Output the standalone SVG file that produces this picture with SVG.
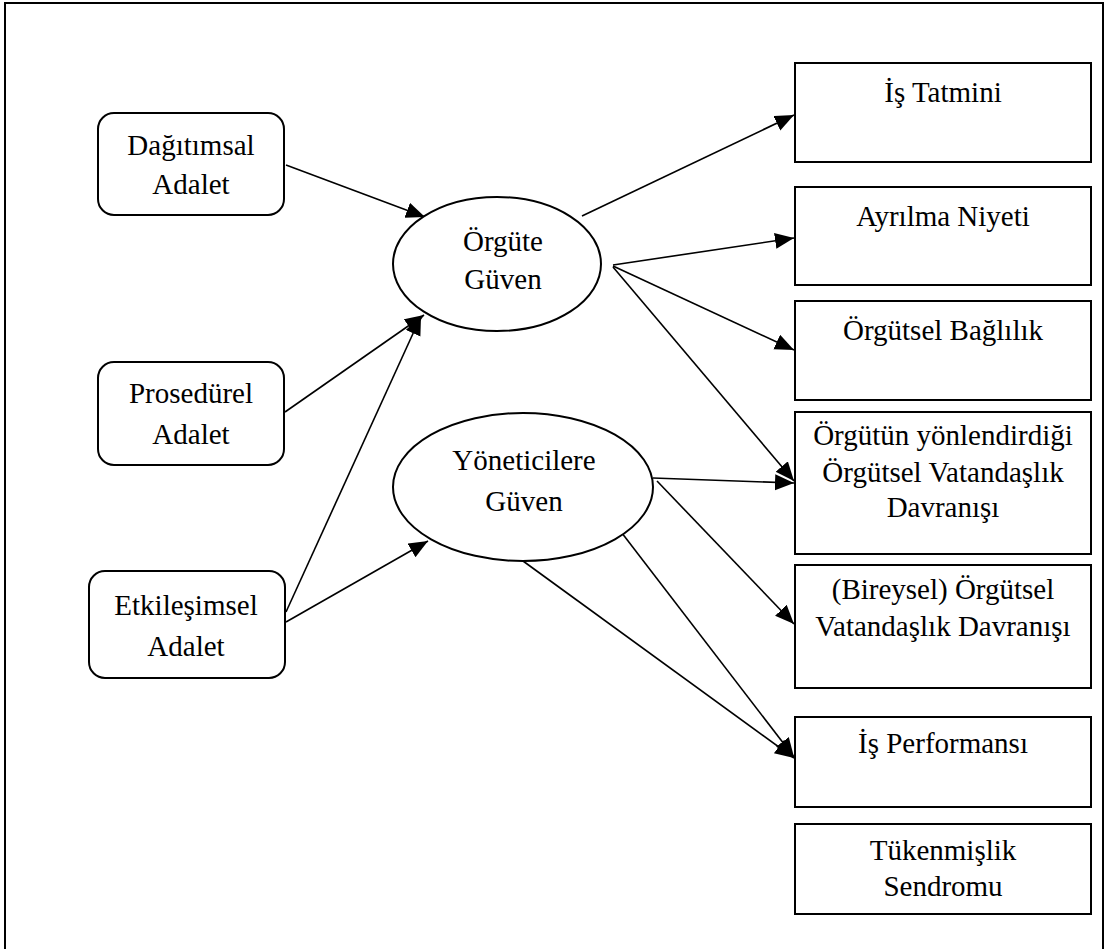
<svg xmlns="http://www.w3.org/2000/svg" width="1107" height="949" viewBox="0 0 1107 949">
<style>
.box{fill:#fff;stroke:#000;stroke-width:2}
.t{font-family:"Liberation Serif","Times New Roman",serif;font-size:29px;fill:#000;text-anchor:middle}
.c{stroke:#000;stroke-width:1.6;fill:none;marker-end:url(#ah)}
</style>
<defs>
<marker id="ah" markerUnits="userSpaceOnUse" markerWidth="22" markerHeight="18" refX="19" refY="8" orient="auto">
<path d="M0,0 L19,8 L0,16 z" fill="#000"/>
</marker>
</defs>
<rect x="0" y="0" width="1107" height="949" fill="#fff"/>
<rect id="frame" x="5" y="3" width="1098" height="960" fill="none" stroke="#000" stroke-width="2"/>
<g id="connectors">
<line class="c" x1="286" y1="165" x2="425" y2="217"/>
<line class="c" x1="285" y1="412" x2="424" y2="315"/>
<line class="c" x1="286" y1="612" x2="421" y2="316"/>
<line class="c" x1="286" y1="622" x2="428" y2="541"/>
<line class="c" x1="582" y1="216" x2="794" y2="115"/>
<line class="c" x1="613" y1="265" x2="794" y2="238"/>
<line class="c" x1="613" y1="266" x2="794" y2="350"/>
<line class="c" x1="613" y1="267" x2="794" y2="481"/>
<line class="c" x1="653" y1="478" x2="794" y2="483"/>
<line class="c" x1="657" y1="481" x2="794" y2="624"/>
<line class="c" x1="615" y1="524" x2="794" y2="757"/>
<line class="c" x1="523" y1="561" x2="794" y2="758"/>
</g>
<g id="dagitimsal">
<rect class="box" x="98" y="113" width="186" height="102" rx="16"/>
<text class="t" x="191" y="155">Dağıtımsal</text>
<text class="t" x="191" y="194">Adalet</text>
</g>
<g id="prosedurel">
<rect class="box" x="98" y="362" width="186" height="103" rx="16"/>
<text class="t" x="191" y="403">Prosedürel</text>
<text class="t" x="191" y="444">Adalet</text>
</g>
<g id="etkilesimsel">
<rect class="box" x="89" y="571" width="196" height="107" rx="16"/>
<text class="t" x="186" y="615">Etkileşimsel</text>
<text class="t" x="186" y="656">Adalet</text>
</g>
<g id="orgute-guven">
<ellipse class="box" cx="497" cy="264" rx="104" ry="67"/>
<text class="t" x="503" y="251">Örgüte</text>
<text class="t" x="503" y="289">Güven</text>
</g>
<g id="yoneticilere-guven">
<ellipse class="box" cx="523" cy="487" rx="130" ry="74"/>
<text class="t" x="524" y="470">Yöneticilere</text>
<text class="t" x="524" y="511">Güven</text>
</g>
<g id="is-tatmini">
<rect class="box" x="795" y="63" width="296" height="99"/>
<text class="t" x="943" y="102">İş Tatmini</text>
</g>
<g id="ayrilma-niyeti">
<rect class="box" x="795" y="187" width="296" height="98"/>
<text class="t" x="943" y="226">Ayrılma Niyeti</text>
</g>
<g id="orgutsel-baglilik">
<rect class="box" x="795" y="301" width="296" height="99"/>
<text class="t" x="943" y="340">Örgütsel Bağlılık</text>
</g>
<g id="orgut-ovd">
<rect class="box" x="795" y="412" width="296" height="142"/>
<text class="t" x="943" y="445">Örgütün yönlendirdiği</text>
<text class="t" x="943" y="482">Örgütsel Vatandaşlık</text>
<text class="t" x="943" y="517">Davranışı</text>
</g>
<g id="bireysel-ovd">
<rect class="box" x="795" y="565" width="296" height="123"/>
<text class="t" x="943" y="599">(Bireysel) Örgütsel</text>
<text class="t" x="943" y="636">Vatandaşlık Davranışı</text>
</g>
<g id="is-performansi">
<rect class="box" x="795" y="717" width="296" height="90"/>
<text class="t" x="943" y="753">İş Performansı</text>
</g>
<g id="tukenmislik">
<rect class="box" x="795" y="824" width="296" height="90"/>
<text class="t" x="943" y="860">Tükenmişlik</text>
<text class="t" x="943" y="896">Sendromu</text>
</g>
</svg>
